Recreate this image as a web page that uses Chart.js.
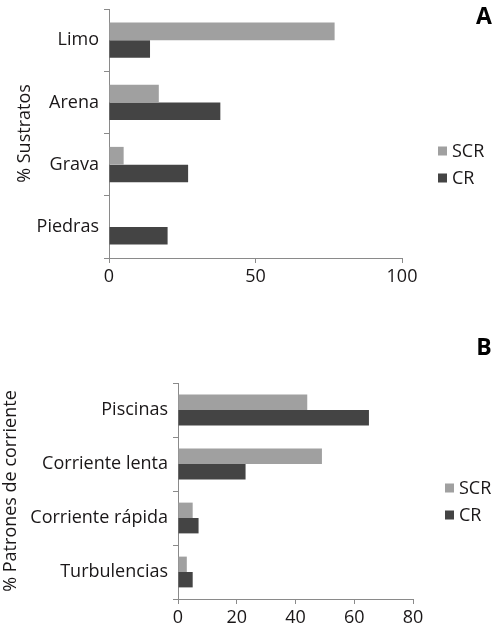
<!DOCTYPE html>
<html><head><meta charset="utf-8">
<script src="https://cdn.jsdelivr.net/npm/chart.js@4.4.0/dist/chart.umd.min.js"></script>
<style>
html,body{margin:0;padding:0;background:#fff;}
#wrapA{position:absolute;left:0;top:0;width:498px;height:300px;}
#wrapB{position:absolute;left:0;top:300px;width:498px;height:329px;}
</style></head><body>
<div id="wrapA"><canvas id="chartA" width="498" height="300"></canvas></div>
<div id="wrapB"><canvas id="chartB" width="498" height="329"></canvas></div>
<script>
// ---- data ----
const seriesNames = ['SCR', 'CR'];
const categoriesA = ['Limo', 'Arena', 'Grava', 'Piedras'];
const scrA = [77, 17, 5, 0];
const crA = [14, 38, 27, 20];
const ticksA = [0, 50, 100];
const categoriesB = ['Piscinas', 'Corriente lenta', 'Corriente rápida', 'Turbulencias'];
const scrB = [44, 49, 5, 3];
const crB = [65, 23, 7, 5];
const ticksB = [0, 20, 40, 60, 80];

const FONT = 'Open Sans';
const TEXT = '#1a1718';
const AXIS = '#8a8a8a';
const COLORS = ['#a0a0a0', '#444444'];

const decor = {
  id: 'decor',
  afterDraw(chart, args, o) {
    const ctx = chart.ctx;
    ctx.save();
    ctx.font = 'bold 23px "' + FONT + '"';
    ctx.fillStyle = '#000';
    ctx.textAlign = 'center';
    ctx.textBaseline = 'middle';
    ctx.fillText(o.letter, o.letterX, o.letterY);
    ctx.font = '18px "' + FONT + '"';
    ctx.textAlign = 'left';
    chart.data.datasets.forEach((ds, i) => {
      const y = o.legendY + i * o.legendGap;
      ctx.fillStyle = ds.backgroundColor;
      ctx.fillRect(o.legendX, y - 4.5, 9, 9);
      ctx.fillStyle = TEXT;
      ctx.fillText(ds.label, o.legendX + 14, y + 1);
    });
    ctx.restore();
  }
};

function makeChart(id, cats, scr, cr, ticks, yTitle, geo, deco) {
  return new Chart(document.getElementById(id), {
    type: 'bar',
    data: {
      labels: cats,
      datasets: [
        { label: seriesNames[0], data: scr, backgroundColor: COLORS[0] },
        { label: seriesNames[1], data: cr, backgroundColor: COLORS[1] }
      ]
    },
    options: {
      indexAxis: 'y',
      responsive: false,
      animation: false,
      categoryPercentage: 0.57,
      barPercentage: 1.0,
      layout: { padding: { left: 0, top: geo.top, right: geo.right, bottom: 0 } },
      plugins: {
        legend: { display: false },
        tooltip: { enabled: false },
        decor: deco
      },
      scales: {
        x: {
          min: ticks[0],
          max: ticks[ticks.length - 1],
          afterBuildTicks: s => { s.ticks = ticks.map(v => ({ value: v })); },
          border: { color: AXIS, width: 1 },
          grid: { drawOnChartArea: false, drawTicks: true, tickLength: 5, color: AXIS },
          ticks: { font: { family: FONT, size: 18 }, color: TEXT, padding: 3, maxRotation: 0 },
          afterFit: s => { s.height = geo.xh; s.paddingLeft = 0; s.paddingRight = 0; }
        },
        y: {
          border: { color: AXIS, width: 1 },
          grid: { drawOnChartArea: false, drawTicks: true, tickLength: 5, color: AXIS, offset: true },
          ticks: { font: { family: FONT, size: 18 }, color: TEXT, padding: 5 },
          title: { display: true, text: yTitle, font: { family: FONT, size: 18 }, color: TEXT,
                   padding: { top: geo.tpad, bottom: 0 } },
          afterFit: s => { s.width = geo.yw; s.paddingTop = 0; s.paddingBottom = 0; }
        }
      }
    },
    plugins: [decor]
  });
}

function build() {
  makeChart('chartA', categoriesA, scrA, crA, ticksA, '% Sustratos',
    { top: 9, right: 96, xh: 42, yw: 109, tpad: 14 },
    { letter: 'A', letterX: 484, letterY: 17, legendX: 438, legendY: 151, legendGap: 27 });
  makeChart('chartB', categoriesB, scrB, crB, ticksB, '% Patrones de corriente',
    { top: 83, right: 85, xh: 30, yw: 178, tpad: 0 },
    { letter: 'B', letterX: 484, letterY: 48, legendX: 445, legendY: 188, legendGap: 27 });
}

if (document.fonts && document.fonts.load) {
  Promise.all([
    document.fonts.load('18px "' + FONT + '"'),
    document.fonts.load('bold 23px "' + FONT + '"')
  ]).then(build, build);
} else {
  build();
}
</script>
</body></html>
